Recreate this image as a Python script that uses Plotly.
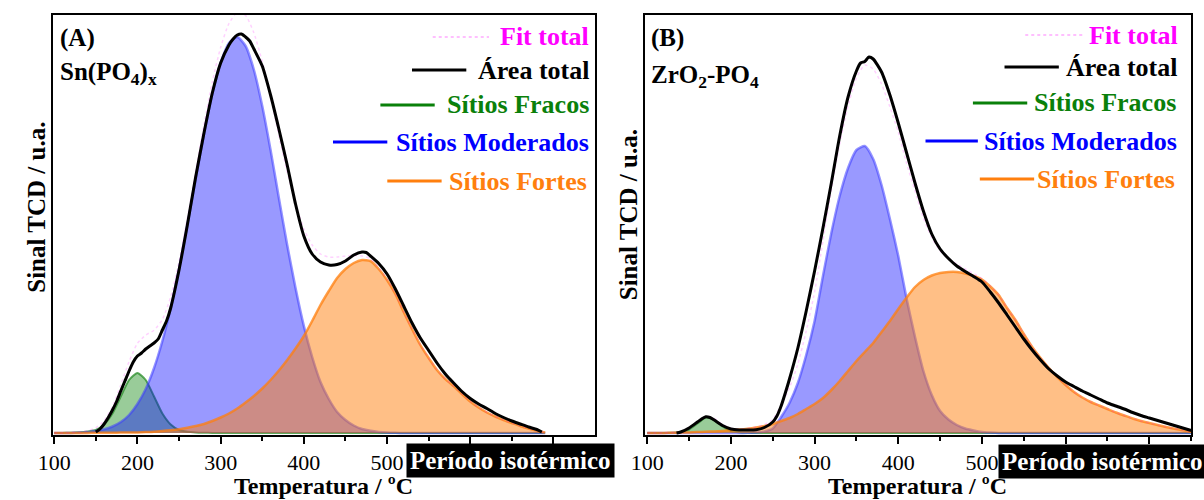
import plotly.graph_objects as go

# ---------------- Data: Sn(PO4)x (panel A) ----------------
temp_comp_a = list(range(100, 700, 10))  # 100 .. 690
fracos_a = [0, 0.1, 0.3, 0.7, 1.5, 3, 8.5, 19.5, 36.5, 53,
            60, 53, 36.5, 19.5, 8.5, 3, 1.3, 0.6, 0.3, 0.1,
            0, 0, 0, 0, 0, 0, 0, 0, 0, 0,
            0, 0, 0, 0, 0, 0, 0, 0, 0, 0,
            0, 0, 0, 0, 0, 0, 0, 0, 0, 0,
            0, 0, 0, 0, 0, 0, 0, 0, 0, 0]
moderados_a = [0, 0, 0.1, 0.3, 0.7, 2, 3.7, 6.5, 11, 18,
               29, 44, 65, 92, 125, 164, 208, 254, 299, 339,
               370, 390, 396, 387, 363, 327, 283, 235, 188, 145,
               107, 76, 51, 34, 21, 13, 7.5, 4, 2.2, 1.1,
               0.5, 0.2, 0, 0, 0, 0, 0, 0, 0, 0,
               0, 0, 0, 0, 0, 0, 0, 0, 0, 0]
fortes_a = [0, 0, 0, 0.1, 0.1, 0.2, 0.2, 0.3, 0.4, 0.5,
            0.6, 0.9, 1.3, 2, 2.8, 3.8, 5.2, 7, 9, 12,
            15.5, 19.5, 24.5, 30.5, 37, 44.5, 53, 62.5, 73, 84.5,
            97, 112, 128, 142, 155, 164, 170, 173, 172, 164,
            153, 139, 121, 104, 88, 75, 63, 54, 47, 39,
            31.5, 25.5, 20.5, 16.5, 13, 10, 7, 4.5, 2.3, 0.5]

temp_area_a = [150, 155, 160, 165, 170, 175, 180, 185, 190, 195,
               200, 205, 210, 215, 220, 225, 230, 235, 240, 245,
               250, 255, 260, 265, 270, 280, 290, 300, 310, 315,
               320, 325, 330, 335, 340, 350, 360, 370, 380, 390,
               400, 410, 420, 430, 440, 450, 460, 470, 475, 480,
               490, 500, 510, 520, 530, 540, 550, 560, 570, 580,
               590, 600, 610, 620, 630, 640, 650, 660, 670, 680, 686]
area_a = [1, 4, 9, 15.5, 23, 31.5, 42, 52, 62, 71,
          77, 80, 84, 87, 90, 94, 103, 112, 125, 143,
          163, 185, 208, 232, 256, 300, 340, 370, 388, 394,
          398, 399, 396, 392, 384, 367, 338, 304, 268, 229,
          197, 179, 171, 168, 168.5, 172, 178, 181, 180.5, 177,
          169.5, 159, 144, 127, 110, 95, 82.5, 70, 59, 50,
          41.5, 34.5, 29, 24.5, 19.5, 15.5, 12, 9, 6, 3.5, 1]

# ---------------- Data: ZrO2-PO4 (panel B) ----------------
temp_comp_b = list(range(100, 760, 10))  # 100 .. 750
fracos_b = [0, 0, 0, 0.2, 1, 3.5, 9.5, 15.5, 13, 6.5,
            2, 0.6, 0.2, 0, 0, 0, 0, 0, 0, 0,
            0, 0, 0, 0, 0, 0, 0, 0, 0, 0,
            0, 0, 0, 0, 0, 0, 0, 0, 0, 0,
            0, 0, 0, 0, 0, 0, 0, 0, 0, 0,
            0, 0, 0, 0, 0, 0, 0, 0, 0, 0,
            0, 0, 0, 0, 0, 0]
moderados_b = [0, 0, 0, 0, 0, 0, 0, 0, 0, 0,
               0, 0, 0.2, 0.5, 1.5, 4.5, 16, 30, 50, 78,
               112, 157, 200, 237, 265, 283, 287, 274, 248, 214,
               177, 134, 96, 62, 38, 22, 13.5, 8, 4.5, 2.5,
               1, 0.4, 0, 0, 0, 0, 0, 0, 0, 0,
               0, 0, 0, 0, 0, 0, 0, 0, 0, 0,
               0, 0, 0, 0, 0, 0]
fortes_b = [0, 0.1, 0.1, 0.2, 0.4, 0.6, 0.9, 1.2, 1.6, 2.1,
            2.7, 3.4, 4.3, 5.5, 7, 9, 12, 15, 19, 24,
            29, 35, 43, 52, 62, 72, 81, 90, 101, 112,
            124, 135.5, 146, 153, 157.5, 160, 161, 161, 159.5, 157,
            153.5, 146.5, 138, 125, 113, 99, 86, 75, 65, 56,
            48, 41, 35.5, 31, 27.5, 24, 20.5, 17.5, 14.5, 12,
            10, 8, 6, 4.3, 2.8, 1.3]

temp_area_b = [135, 140, 150, 160, 165, 170, 175, 180, 190, 200,
               210, 220, 230, 240, 250, 255, 260, 265, 270, 280,
               290, 300, 310, 320, 330, 340, 350, 355, 360, 365,
               370, 380, 390, 400, 410, 420, 430, 440, 450, 460,
               470, 480, 490, 500, 510, 520, 530, 540, 550, 560,
               570, 580, 590, 600, 610, 620, 630, 640, 650, 660,
               670, 680, 690, 700, 710, 720, 730, 740, 750]
area_b = [0, 1, 5, 11, 14, 16.3, 15.5, 13, 7.5, 4,
          3, 3, 3.3, 5.5, 11, 17, 27, 40, 54, 85,
          122, 162, 205, 250, 297, 336, 362, 370, 371.5, 376,
          374, 361, 338, 310, 280, 250, 222, 199, 184, 174.5,
          167, 161.5, 156.5, 151, 141, 130, 118, 106, 94, 83,
          73, 64, 57, 51, 46.5, 42, 38, 34, 30, 27,
          24, 20.5, 17.5, 15, 12.5, 10, 7.5, 5, 2.5]

# Labelled major ticks; the 600 and 700 marks sit under the isothermal-period box
tick_vals = [100, 200, 300, 400, 500, 600, 700]
tick_text = ["100", "200", "300", "400", "500", "", ""]
minor_vals = [150, 250, 350, 450, 550, 650, 750]

# The fitted envelope is the sum of the three deconvoluted components
fit_a = [g + m + f for g, m, f in zip(fracos_a, moderados_a, fortes_a)]
fit_b = [g + m + f for g, m, f in zip(fracos_b, moderados_b, fortes_b)]

W, H = 1204, 500
FONT = "Liberation Serif, Times New Roman, serif"


def px(x):
    return x / W


def py(y):
    return 1 - y / H


fig = go.Figure()

panels = [
    ("x", "y", temp_comp_a, fracos_a, moderados_a, fortes_a, fit_a, temp_area_a, area_a),
    ("x2", "y2", temp_comp_b, fracos_b, moderados_b, fortes_b, fit_b, temp_area_b, area_b),
]

for xa, ya, tc, fr, mo, fo, fit, ta, ar in panels:
    fig.add_trace(go.Scatter(x=tc, y=fr, xaxis=xa, yaxis=ya, mode="lines",
                             line=dict(color="rgba(40,140,40,0.75)", width=2, shape="spline", smoothing=0.6),
                             fill="tozeroy", fillcolor="rgba(0,128,0,0.4)", showlegend=False))
    fig.add_trace(go.Scatter(x=tc, y=mo, xaxis=xa, yaxis=ya, mode="lines",
                             line=dict(color="rgba(60,60,255,0.55)", width=2.5, shape="spline", smoothing=0.6),
                             fill="tozeroy", fillcolor="rgba(0,0,255,0.4)", showlegend=False))
    fig.add_trace(go.Scatter(x=tc, y=fo, xaxis=xa, yaxis=ya, mode="lines",
                             line=dict(color="rgba(255,127,14,0.75)", width=2.5, shape="spline", smoothing=0.6),
                             fill="tozeroy", fillcolor="rgba(255,127,14,0.5)", showlegend=False))
    fig.add_trace(go.Scatter(x=tc, y=fit, xaxis=xa, yaxis=ya, mode="lines",
                             line=dict(color="rgba(255,0,255,0.18)", width=1.5, dash="dot",
                                       shape="spline", smoothing=0.6),
                             showlegend=False))
    fig.add_trace(go.Scatter(x=ta, y=ar, xaxis=xa, yaxis=ya, mode="lines",
                             line=dict(color="black", width=3, shape="spline", smoothing=0.6),
                             showlegend=False))

xcommon = dict(
    showline=True, linecolor="black", linewidth=2, mirror=True,
    showgrid=False, zeroline=False,
    ticks="outside", ticklen=7, tickwidth=1.5, tickcolor="black",
    tickmode="array", tickvals=tick_vals, ticktext=tick_text,
    tickfont=dict(family=FONT, size=22, color="black"),
    ticklabelstandoff=0,
    minor=dict(tickmode="array", tickvals=minor_vals, ticks="outside", ticklen=4,
               tickwidth=1.5, tickcolor="black"),
)
ycommon = dict(
    showline=True, linecolor="black", linewidth=2, mirror=True,
    showgrid=False, zeroline=False, showticklabels=False, ticks="",
    range=[-2, 418], domain=[1 - 435 / H, 1 - 15 / H],
)

fig.update_layout(
    width=W, height=H, autosize=False,
    margin=dict(l=0, r=0, t=0, b=0),
    paper_bgcolor="white", plot_bgcolor="white",
    font=dict(family=FONT, color="black"),
    showlegend=False,
    xaxis=dict(domain=[px(38), px(587)], range=[98, 749.5], anchor="y", **xcommon),
    yaxis=dict(anchor="x", **ycommon),
    xaxis2=dict(domain=[px(638), px(1191)], range=[97.4, 750], anchor="y2", **xcommon),
    yaxis2=dict(anchor="x2", **ycommon),
)

annotations = []
shapes = []


def label(x, y, text, size=25, color="black", xanchor="center", bold=True, **kw):
    annotations.append(dict(
        x=px(x), y=py(y), xref="paper", yref="paper", text=text, showarrow=False,
        xanchor=xanchor, yanchor="middle",
        font=dict(family=FONT, size=size, color=color, weight="bold" if bold else "normal"),
        **kw))


def sample(x0, x1, y, color, width=3, dash="solid"):
    shapes.append(dict(type="line", xref="paper", yref="paper",
                       x0=px(x0), x1=px(x1), y0=py(y), y1=py(y),
                       line=dict(color=color, width=width, dash=dash)))


legend_entries = [
    ("Fit total", "#FF00FF"),
    ("Área total", "black"),
    ("Sítios Fracos", "#0A800A"),
    ("Sítios Moderados", "#0000FF"),
    ("Sítios Fortes", "#FF7F0E"),
]

# Panel A legend: (text right edge, y, sample x0, sample x1)
legend_a = [(583, 37, 423, 480), (583, 70, 402, 457), (583, 105, 370, 425),
            (583, 142, 322, 377), (581, 181, 377, 432)]
# Panel B legend
legend_b = [(1180, 35, 1023, 1083), (1179, 67, 1002, 1057), (1178, 103, 970, 1025),
            (1179, 141, 922, 975), (1177, 179, 977, 1032)]

for entries in (legend_a, legend_b):
    for (tx, ty, lx0, lx1), (name, color) in zip(entries, legend_entries):
        label(tx, ty, name, size=26, color=color, xanchor="right")
        if name == "Fit total":
            sample(lx0, lx1, ty, "rgba(255,0,255,0.25)", width=2, dash="dot")
        else:
            sample(lx0, lx1, ty, color, width=3)

# Panel tags and sample names
label(44, 38, "(A)", xanchor="left")
label(44, 73, "Sn(PO<sub>4</sub>)<sub>x</sub>", xanchor="left")
label(642, 38, "(B)", xanchor="left")
label(642, 76, "ZrO<sub>2</sub>-PO<sub>4</sub>", xanchor="left")

# Axis titles
label(312, 486, "Temperatura / ºC", size=24)
label(914, 486, "Temperatura / ºC", size=24)
label(22, 207, "Sinal TCD / u.a.", textangle=-90)
label(622, 215, "Sinal TCD / u.a.", textangle=-90)

# Isothermal-period labels over the end of each axis
label(502, 460, "Período isotérmico", size=25, color="white", bgcolor="black", borderpad=3)
label(1101, 461, "Período isotérmico", size=25, color="white", bgcolor="black", borderpad=3)

fig.update_layout(annotations=annotations, shapes=shapes)

fig.write_html("out.html")
